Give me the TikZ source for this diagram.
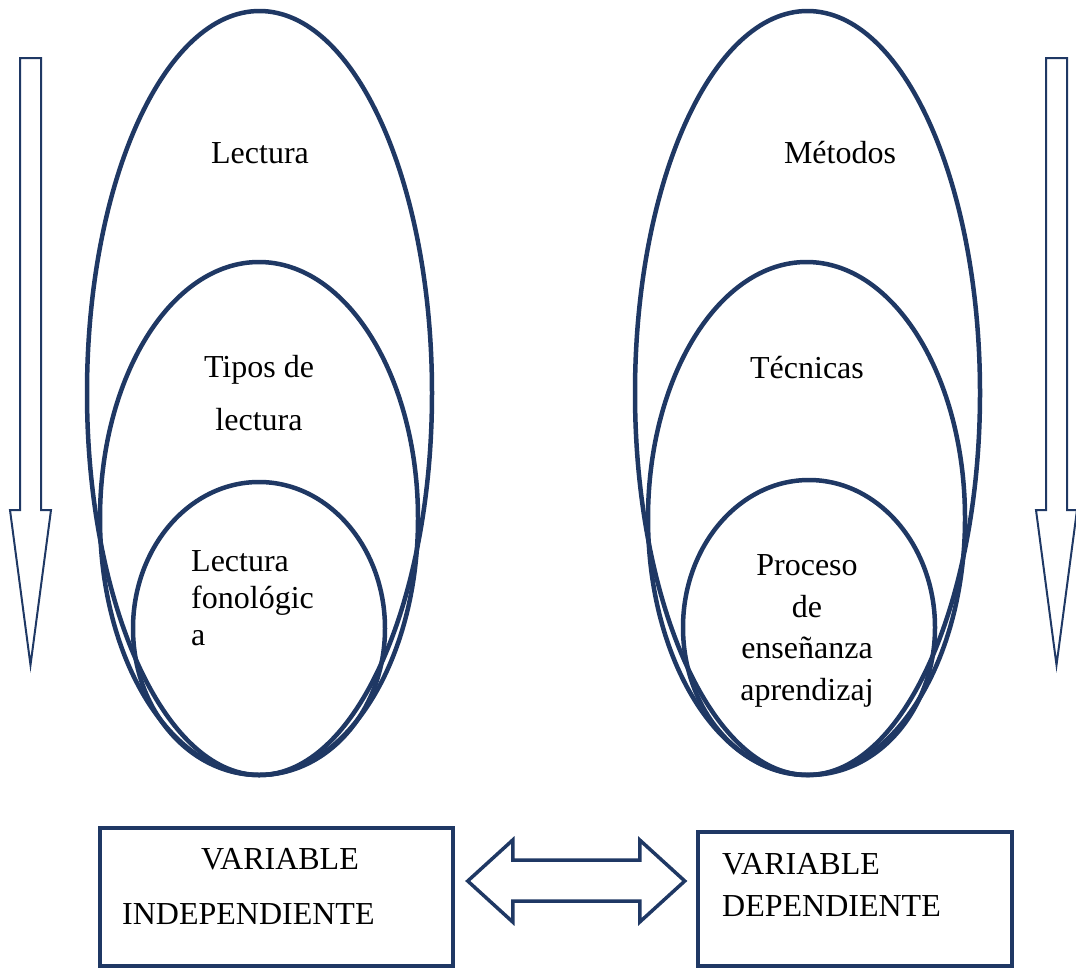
\documentclass[tikz,border=0pt]{standalone}
\usepackage{fontspec}
\setmainfont{Liberation Serif}
\usetikzlibrary{shapes.geometric}
\definecolor{navy}{RGB}{31,56,100}
\newcommand{\hollowdown}[2]{\draw[navy,line width=2pt] (#1,#2)--++(21,0)--++(0,452)--++(10,0)--++(-20.5,155)--++(-20.5,-155)--++(10,0)--cycle;}
\tikzset{
  oval/.style={ellipse,draw=navy,line width=4.5pt,inner sep=0pt},
  word/.style={font=\fontsize{32}{41.5}\selectfont,inner sep=0pt},
  varbox/.style={draw=navy,line width=3.5pt,inner sep=0pt}
}

\begin{document}
\begin{tikzpicture}[x=1pt,y=-1pt]
\useasboundingbox (0,0) rectangle (1076,967);
% left side
\node[oval,minimum width=345pt,minimum height=764pt] (lecO) at (259.5,393) {};
\node[oval,minimum width=318pt,minimum height=513pt] (lecM) at (259,518.5) {};
\node[oval,minimum width=252pt,minimum height=293pt] (lecI) at (259,628.5) {};
\node[word,anchor=base] (lectura) at (260,163) {Lectura};
\node[word,anchor=base,align=center] (tipos) at (259,430) {Tipos de\\[11.5pt]lectura};
\node[word,anchor=base west,align=left,font=\fontsize{32}{37}\selectfont] (fono) at (191,645) {Lectura\\fonológic\\a};
% right side
\node[oval,minimum width=345pt,minimum height=764pt] (metO) at (807.5,393) {};
\node[oval,minimum width=317pt,minimum height=513pt] (metM) at (806.5,518.5) {};
\node[oval,minimum width=252pt,minimum height=295pt] (metI) at (809,627.5) {};
\node[word,anchor=base] (metodos) at (840,163) {Métodos};
\node[word,anchor=base] (tecnicas) at (807,378) {Técnicas};
\node[word,anchor=base,align=center] (proceso) at (807,700) {Proceso\\de\\enseñanza\\aprendizaj};
% side arrows
\hollowdown{20}{58}
\hollowdown{1046}{58}
% variables
\node[varbox,minimum width=353pt,minimum height=138pt] (vi) at (276.5,897) {};
\node[varbox,minimum width=314pt,minimum height=134pt] (vd) at (855,899) {};
\node[word,anchor=base] (viA) at (280,869) {VARIABLE};
\node[word,anchor=base west] (viB) at (122,924) {INDEPENDIENTE};
\node[word,anchor=base west,align=left,font=\fontsize{32}{42}\selectfont] (vdA) at (722,916) {VARIABLE\\DEPENDIENTE};
\path (vi.east) ++(13,-16) coordinate (tipL);
\draw[navy,line width=3.5pt] (tipL)--++(45,-41)--++(0,20)--++(127,0)--++(0,-20)--++(45,41)--++(-45,41)--++(0,-21)--++(-127,0)--++(0,21)--cycle;
\end{tikzpicture}
\end{document}
